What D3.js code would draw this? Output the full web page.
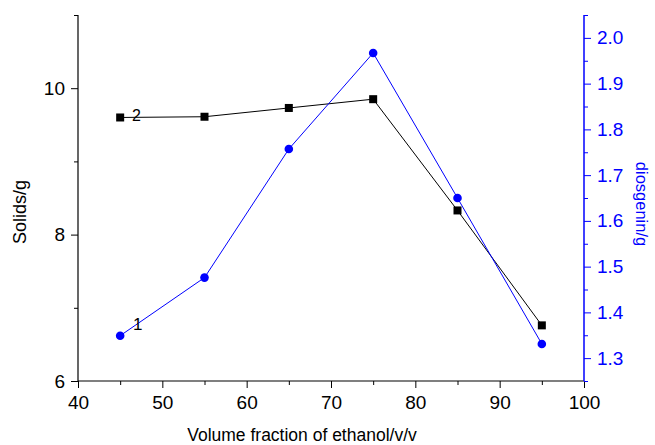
<!DOCTYPE html>
<html><head><meta charset="utf-8">
<script src="https://cdn.jsdelivr.net/npm/d3@7"></script>
<style>body{margin:0;background:#fff}svg{display:block}text{font-family:"Liberation Sans",Arial,sans-serif}</style>
</head><body>
<svg id="c" width="655" height="445"></svg>
<script>
const xValues = [45, 55, 65, 75, 85, 95];
const solids = [9.60, 9.61, 9.73, 9.85, 8.33, 6.76];
const diosgenin = [1.349, 1.476, 1.757, 1.967, 1.650, 1.331];
const xTicks = [40, 50, 60, 70, 80, 90, 100];
const leftTicks = [6, 8, 10];
const rightTicks = [1.3, 1.4, 1.5, 1.6, 1.7, 1.8, 1.9, 2.0];

const svg = d3.select("#c");
const L = 78, R = 584, T = 15, B = 381;
const x = d3.scaleLinear().domain([40, 100]).range([L, R]);
const yL = d3.scaleLinear().domain([6, 11]).range([B, T]);
const yR = d3.scaleLinear().domain([1.25, 2.05]).range([B, T]);
const blue = "#0000ff";
const FS = 19;

// X axis
const gx = svg.append("g").attr("transform", `translate(0,${B})`);
gx.append("g").call(d3.axisBottom(x).tickValues(d3.range(45, 100, 10)).tickSize(4).tickFormat(""));
gx.append("g").call(d3.axisBottom(x).tickValues(xTicks).tickSize(7).tickPadding(8).tickFormat(d3.format("d")));
gx.selectAll("path.domain").remove();
gx.append("line").attr("x1", L).attr("x2", R).attr("stroke", "#000").attr("stroke-width", 1.2);
gx.selectAll("text").attr("font-size", FS).attr("fill", "#000");
gx.selectAll("line").attr("stroke", "#000");

// Left axis
const gl = svg.append("g").attr("transform", `translate(${L},0)`);
gl.append("g").call(d3.axisLeft(yL).tickValues([7, 9, 11]).tickSize(4).tickFormat(""));
gl.append("g").call(d3.axisLeft(yL).tickValues(leftTicks).tickSize(7).tickPadding(6).tickFormat(d3.format("d")));
gl.selectAll("path.domain").remove();
gl.append("line").attr("y1", T).attr("y2", B).attr("stroke", "#000").attr("stroke-width", 1.2);
gl.selectAll("text").attr("font-size", FS).attr("fill", "#000");

// Right axis
const gr = svg.append("g").attr("transform", `translate(${R},0)`);
gr.append("g").call(d3.axisRight(yR).tickValues(d3.range(1.25, 2.06, 0.1)).tickSize(4).tickFormat(""));
gr.append("g").call(d3.axisRight(yR).tickValues(rightTicks).tickSize(7).tickPadding(6).tickFormat(d3.format(".1f")));
gr.selectAll("path.domain").remove();
gr.append("line").attr("y1", T).attr("y2", B).attr("stroke", blue).attr("stroke-width", 1.5);
gr.selectAll("line").attr("stroke", blue);
gr.selectAll("text").attr("font-size", FS).attr("fill", blue);

// Axis titles
svg.append("text").attr("x", 302).attr("y", 441).attr("text-anchor", "middle").attr("font-size", 17.5).text("Volume fraction of ethanol/v/v");
svg.append("text").attr("transform", "translate(20,212) rotate(-90)").attr("text-anchor", "middle").attr("dominant-baseline", "central").attr("font-size", 18).text("Solids/g");
svg.append("text").attr("transform", "translate(642,204) rotate(90)").attr("text-anchor", "middle").attr("dominant-baseline", "central").attr("font-size", 16.5).attr("fill", blue).text("diosgenin/g");

// Series 2: solids (black squares)
const lineS = d3.line().x((d, i) => x(xValues[i])).y(d => yL(d));
svg.append("path").datum(solids).attr("d", lineS).attr("fill", "none").attr("stroke", "#000").attr("stroke-width", 1);
svg.selectAll("rect.pt").data(solids).join("rect").attr("class", "pt")
  .attr("x", (d, i) => x(xValues[i]) - 4).attr("y", d => yL(d) - 4)
  .attr("width", 8).attr("height", 8).attr("fill", "#000");

// Series 1: diosgenin (blue circles)
const lineD = d3.line().x((d, i) => x(xValues[i])).y(d => yR(d));
svg.append("path").datum(diosgenin).attr("d", lineD).attr("fill", "none").attr("stroke", blue).attr("stroke-width", 1);
svg.selectAll("circle.pt").data(diosgenin).join("circle").attr("class", "pt")
  .attr("cx", (d, i) => x(xValues[i])).attr("cy", d => yR(d)).attr("r", 4.3).attr("fill", blue);

// Curve labels
svg.append("text").attr("x", 132).attr("y", 121).attr("font-size", 16).text("2");
svg.append("text").attr("x", 133).attr("y", 330).attr("font-size", 17).text("1");
</script>
</body></html>
